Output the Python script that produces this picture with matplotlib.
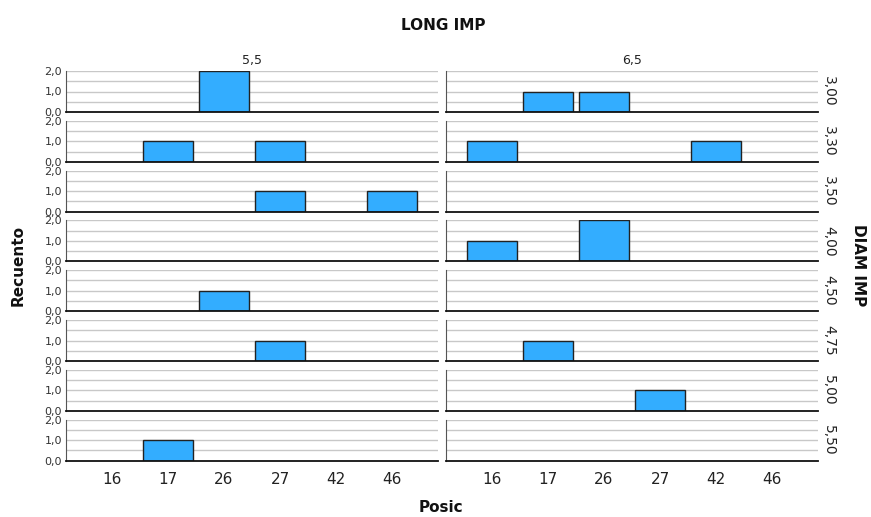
import matplotlib
matplotlib.use("Agg")
import matplotlib.pyplot as plt
import numpy as np

categories = ["16", "17", "26", "27", "42", "46"]
long_imp = ["5,5", "6,5"]
diam_imp = ["3,00", "3,30", "3,50", "4,00", "4,50", "4,75", "5,00", "5,50"]

# counts per DIAM IMP row, values per Posic category
counts_55 = [
    [0, 0, 2, 0, 0, 0],
    [0, 1, 0, 1, 0, 0],
    [0, 0, 0, 1, 0, 1],
    [0, 0, 0, 0, 0, 0],
    [0, 0, 1, 0, 0, 0],
    [0, 0, 0, 1, 0, 0],
    [0, 0, 0, 0, 0, 0],
    [0, 1, 0, 0, 0, 0],
]
counts_65 = [
    [0, 1, 1, 0, 0, 0],
    [1, 0, 0, 0, 1, 0],
    [0, 0, 0, 0, 0, 0],
    [1, 0, 2, 0, 0, 0],
    [0, 0, 0, 0, 0, 0],
    [0, 1, 0, 0, 0, 0],
    [0, 0, 0, 1, 0, 0],
    [0, 0, 0, 0, 0, 0],
]
counts = [counts_55, counts_65]

W, H = 871, 517
fig = plt.figure(figsize=(W / 100, H / 100), dpi=100)
plt.rcParams['font.family'] = ['DejaVu Sans']

bar_color = "#33adff"
col_lefts = [66, 446]
col_width = 372
row_top0 = 71
row_h = 41
row_step = 49.8

x = np.arange(len(categories))
for ci in range(2):
    for ri in range(len(diam_imp)):
        top = row_top0 + ri * row_step
        ax = fig.add_axes([col_lefts[ci] / W, 1 - (top + row_h) / H, col_width / W, row_h / H])
        ax.set_xlim(-0.82, 5.82)
        ax.set_ylim(0, 2.0)
        for g in [0.5, 1.0, 1.5, 2.0]:
            ax.axhline(g, color="#c8c8c8", lw=1, zorder=0)
        vals = np.array(counts[ci][ri])
        nz = vals > 0
        ax.bar(x[nz], vals[nz], width=0.9, color=bar_color, edgecolor="#222222",
               linewidth=1, zorder=2)
        for s in ["top", "right"]:
            ax.spines[s].set_visible(False)
        ax.spines["bottom"].set_color("#111111")
        ax.spines["bottom"].set_linewidth(1.3)
        ax.spines["left"].set_color("#555555")
        ax.spines["bottom"].set_zorder(3)
        ax.tick_params(length=0)
        if ci == 0:
            ax.set_yticks([0, 1, 2])
            ax.set_yticklabels(["0,0", "1,0", "2,0"], fontsize=8, color="#333333")
            ax.tick_params(axis="y", pad=3)
        else:
            ax.set_yticks([])
        if ri == len(diam_imp) - 1:
            ax.set_xticks(x)
            ax.set_xticklabels(categories, fontsize=11, color="#222222")
            ax.tick_params(axis="x", pad=8)
        else:
            ax.set_xticks([])
        if ri == 0:
            ax.set_title(long_imp[ci], fontsize=9, color="#222222", pad=5)
        if ci == 1:
            ax.text(1.03, 0.5, diam_imp[ri], transform=ax.transAxes, rotation=-90,
                    ha="center", va="center", fontsize=10, color="#222222")

fig.text(443 / W, 1 - 26 / H, "LONG IMP", ha="center", va="center", fontsize=11,
         fontweight="bold", color="#111111")
fig.text(441 / W, 1 - 507 / H, "Posic", ha="center", va="center", fontsize=11,
         fontweight="bold", color="#111111")
fig.text(18 / W, 1 - 265 / H, "Recuento", ha="center", va="center", fontsize=11,
         fontweight="bold", rotation=90, color="#111111")
fig.text(858 / W, 1 - 265 / H, "DIAM IMP", ha="center", va="center", fontsize=11,
         fontweight="bold", rotation=-90, color="#111111")

fig.savefig("out.png", dpi=100)
